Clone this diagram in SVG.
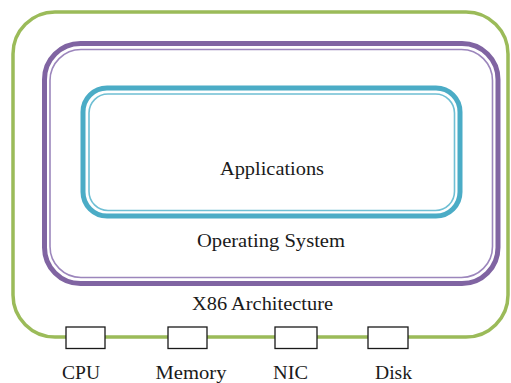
<svg xmlns="http://www.w3.org/2000/svg" width="511" height="383" viewBox="0 0 511 383">
  <style>
    .lbl { font-family: "Liberation Serif", "Times New Roman", serif; font-size: 19px; fill: #1a1a1a; text-anchor: middle; }
    .dev { fill: #ffffff; stroke: #1a1a1a; stroke-width: 1.3; }
    .hw { fill: none; stroke: #9BBB59; stroke-width: 3.5; }
    .os-outer { fill: none; stroke: #8064A2; stroke-width: 5; }
    .os-inner { fill: none; stroke: #9C86BC; stroke-width: 1.6; }
    .app-outer { fill: none; stroke: #4BACC6; stroke-width: 5; }
    .app-inner { fill: none; stroke: #6FBFD4; stroke-width: 1.6; }
  </style>
  <rect width="511" height="383" fill="#ffffff"/>

  <!-- hardware layer -->
  <g id="x86">
    <rect class="hw" x="13" y="12" width="495" height="325" rx="42"/>
    <text class="lbl" x="262.5" y="310" textLength="141" lengthAdjust="spacingAndGlyphs">X86 Architecture</text>
  </g>

  <!-- operating system layer -->
  <g id="os">
    <rect class="os-outer" x="44.5" y="43.5" width="453.5" height="240" rx="36"/>
    <rect class="os-inner" x="50" y="49.5" width="442.5" height="228" rx="31"/>
    <text class="lbl" x="271" y="247" textLength="148" lengthAdjust="spacingAndGlyphs">Operating System</text>
  </g>

  <!-- application layer -->
  <g id="apps">
    <rect class="app-outer" x="83" y="88" width="377" height="128" rx="24"/>
    <rect class="app-inner" x="89" y="94" width="365.5" height="116.5" rx="19"/>
    <text class="lbl" x="272" y="175" textLength="104" lengthAdjust="spacingAndGlyphs">Applications</text>
  </g>

  <!-- devices on the bus -->
  <g id="cpu">
    <rect class="dev" x="66" y="327" width="39" height="21.5"/>
    <text class="lbl" x="81" y="379" textLength="38" lengthAdjust="spacingAndGlyphs">CPU</text>
  </g>
  <g id="memory">
    <rect class="dev" x="168" y="327" width="39" height="21.5"/>
    <text class="lbl" x="191" y="379" textLength="71" lengthAdjust="spacingAndGlyphs">Memory</text>
  </g>
  <g id="nic">
    <rect class="dev" x="275" y="327" width="42" height="21.5"/>
    <text class="lbl" x="290.5" y="379" textLength="35" lengthAdjust="spacingAndGlyphs">NIC</text>
  </g>
  <g id="disk">
    <rect class="dev" x="368" y="327" width="40" height="21.5"/>
    <text class="lbl" x="393.5" y="379" textLength="37" lengthAdjust="spacingAndGlyphs">Disk</text>
  </g>

  <g id="connectors"></g>
</svg>
